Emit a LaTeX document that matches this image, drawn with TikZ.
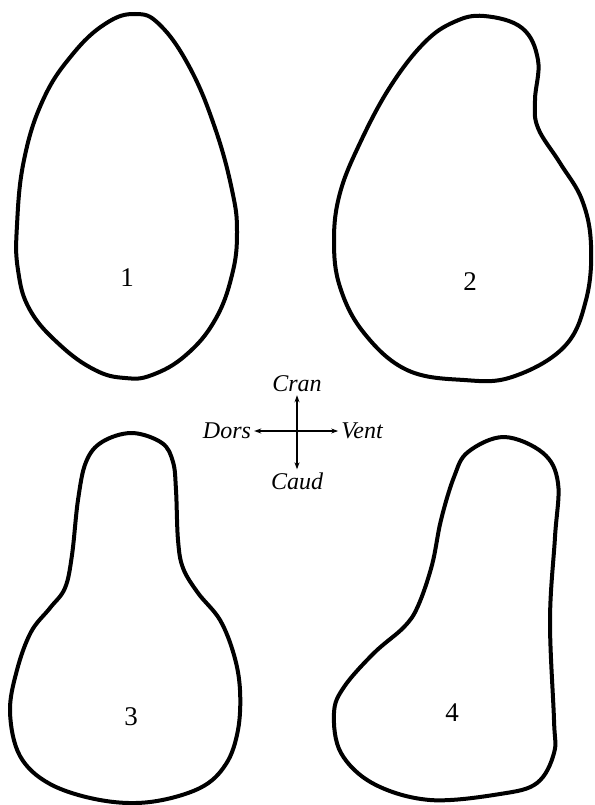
\documentclass[tikz,border=0pt]{standalone}
\usepackage{fontspec}
\setmainfont{Liberation Serif}
\usetikzlibrary{arrows.meta, positioning}

\begin{document}
\begin{tikzpicture}[
  x=1pt, y=-1pt,
  outline/.style={line width=4pt, line join=round},
  num/.style={font=\fontsize{27}{30}\selectfont},
  dirlabel/.style={font=\fontsize{24}{27}\selectfont\itshape, inner sep=3pt},
  axis/.style={{Stealth[length=7pt,width=5pt]}-{Stealth[length=7pt,width=5pt]}, line width=1.1pt}
]
\useasboundingbox (0,0) rectangle (594,805);

% section 1
\draw[outline] plot[smooth cycle, tension=0.7] coordinates {
  (135,14) (160,25) (190,68) (215,128) (232,190) (237,232) (232,275)
  (215,320) (186,355) (152,375) (125,378) (95,370) (60,345) (30,310)
  (18,270) (17,225) (24,160) (43,100) (72,55) (105,24)};
\node[num] (n1) at (127,278) {1};

% section 2
\draw[outline] plot[smooth cycle, tension=0.65] coordinates {
  (484,16) (522,28) (538,60) (535,100) (538,128) (560,163) (582,200)
  (591,245) (586,300) (564,347) (512,377) (464,380) (407,370) (364,333)
  (340,287) (334,240) (340,193) (360,143) (390,87) (424,43) (454,22)};
\node[num] (n2) at (470,282) {2};

% section 3
\draw[outline] plot[smooth cycle, tension=0.6] coordinates {
  (132,433) (162,443) (173,462) (176,490) (178,540) (183,568) (198,593)
  (220,620) (234,655) (240,690) (238,730) (226,764) (200,788) (150,802)
  (100,800) (50,784) (20,756) (10,712) (17,670) (31,632) (50,608)
  (65,588) (72,555) (78,500) (86,462) (102,442)};
\node[num] (n3) at (131,717) {3};

% section 4
\draw[outline] plot[smooth cycle, tension=0.6] coordinates {
  (504,437) (543,453) (558,483) (555,537) (550,620) (554,720) (554,753)
  (537,783) (500,794) (430,800) (374,784) (341,753) (334,713) (344,687)
  (374,653) (404,627) (418,606) (432,565) (441,520) (454,477) (468,452)};
\node[num] (n4) at (452,713) {4};

% orientation
\node[dirlabel] (cran) at (297,384) {Cran};
\node[dirlabel] (caud) at (297,481) {Caud};
\node[dirlabel] (dors) at (227,431) {Dors};
\node[dirlabel] (vent) at (362,431) {Vent};
\draw[axis] (caud) -- (cran);
\draw[axis] (dors) -- (vent);

\end{tikzpicture}
\end{document}
